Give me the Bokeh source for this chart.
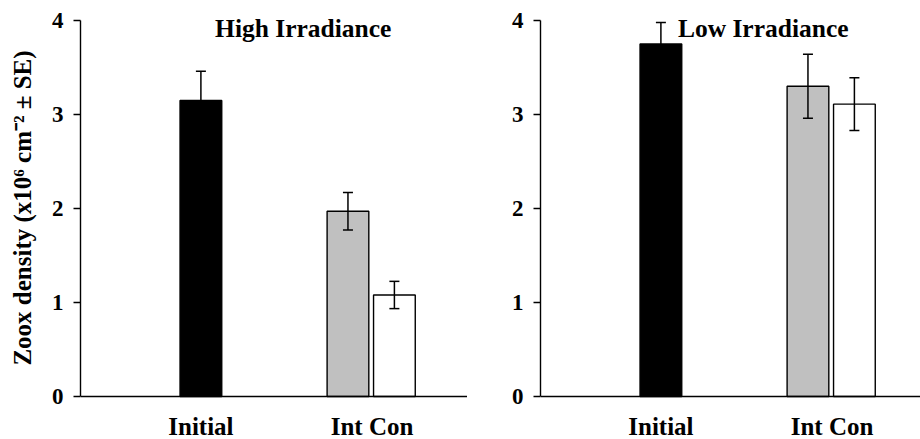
from bokeh.plotting import figure
from bokeh.layouts import row
from bokeh.models import ColumnDataSource, Whisker, Label, FixedTicker, TeeHead, Range1d, Span
from bokeh.core.properties import value
from bokeh.embed import file_html
from bokeh.resources import INLINE

# ---- data ----
panels = ["High Irradiance", "Low Irradiance"]
groups = ["Initial", "Int", "Con"]
high_means = [3.15, 1.97, 1.08]
high_se = [0.31, 0.20, 0.145]
low_means = [3.75, 3.30, 3.11]
low_se = [0.23, 0.34, 0.28]
category_labels = ["Initial", "Int Con"]
y_ticks = [0, 1, 2, 3, 4]
y_label = "Zoox density (x10\u2076 cm\u207b\u00b2 \u00b1 SE)"

# ---- layout (positions/styles) ----
positions = [2.80, 6.22, 7.30]
label_positions = [2.80, 6.78]
fills = ["#000000", "#c0c0c0", "#ffffff"]
BAR_W = 0.97
FONT = "Liberation Serif"
PX_PER_Y = 94.0
Y_TOP = 4 + 19 / PX_PER_Y
Y_BOT = -43 / PX_PER_Y
PAD = "\u00a0\u00a0\u00a0\u00a0"  # centres the rotated label on the 0-4 axis span


def make_panel(title, means, se, width, border_left, x_end, ylabel):
    p = figure(width=width, height=439, output_backend="svg", toolbar_location=None,
               x_range=Range1d(0, x_end), y_range=Range1d(Y_BOT, Y_TOP),
               x_axis_location=None,
               min_border_left=border_left, min_border_right=0,
               min_border_top=1, min_border_bottom=0)
    p.outline_line_color = None
    p.xgrid.visible = False
    p.ygrid.visible = False
    p.background_fill_color = "white"
    p.border_fill_color = "white"

    src = ColumnDataSource(dict(
        x=positions, top=means, fill=fills,
        upper=[m + s for m, s in zip(means, se)],
        lower=[m - s for m, s in zip(means, se)],
    ))
    p.vbar(x="x", top="top", bottom=0, width=BAR_W, source=src,
           fill_color="fill", line_color="black", line_width=1.4)
    w = Whisker(base="x", upper="upper", lower="lower", source=src,
                line_color="black", line_width=1.5, level="overlay",
                upper_head=TeeHead(size=10, line_color="black", line_width=1.5),
                lower_head=TeeHead(size=10, line_color="black", line_width=1.5))
    p.add_layout(w)

    # x axis line (baseline at y = 0) and category labels
    p.add_layout(Span(location=0, dimension="width", line_color="black", line_width=1.4))
    lab_src = ColumnDataSource(dict(x=label_positions, y=[0, 0], text=category_labels))
    p.text(x="x", y="y", text="text", source=lab_src, y_offset=30,
           text_align="center", text_baseline="alphabetic",
           text_font=value(FONT), text_font_style="bold", text_font_size="25px",
           text_color="black")

    p.add_layout(Label(x=5.18, y=3.92, text=title, text_align="center",
                       text_baseline="alphabetic", text_font=FONT,
                       text_font_style="bold", text_font_size="25.5px",
                       text_color="black"))

    # y axis
    p.yaxis.ticker = FixedTicker(ticks=y_ticks)
    p.yaxis.bounds = (0, 4)
    p.yaxis.minor_tick_line_color = None
    p.yaxis.major_tick_in = 0
    p.yaxis.major_tick_out = 7
    p.yaxis.major_tick_line_width = 1.4
    p.yaxis.major_label_standoff = 10
    p.yaxis.major_label_text_font = FONT
    p.yaxis.major_label_text_font_style = "bold"
    p.yaxis.major_label_text_font_size = "23px"
    p.yaxis.major_label_text_color = "black"
    p.yaxis.axis_line_color = "black"
    p.yaxis.axis_line_width = 1.4
    if ylabel:
        p.yaxis.axis_label = PAD + ylabel
        p.yaxis.axis_label_text_font = FONT
        p.yaxis.axis_label_text_font_style = "bold"
        p.yaxis.axis_label_text_font_size = "25px"
        p.yaxis.axis_label_text_color = "black"
        p.yaxis.axis_label_standoff = 13
    return p


p1 = make_panel(panels[0], high_means, high_se, 467, 80, 387 / 43, y_label)
p2 = make_panel(panels[1], low_means, low_se, 453, 73, 380 / 43, None)

layout = row(p1, p2, spacing=0)
open("out.html", "w").write(file_html(layout, INLINE))
